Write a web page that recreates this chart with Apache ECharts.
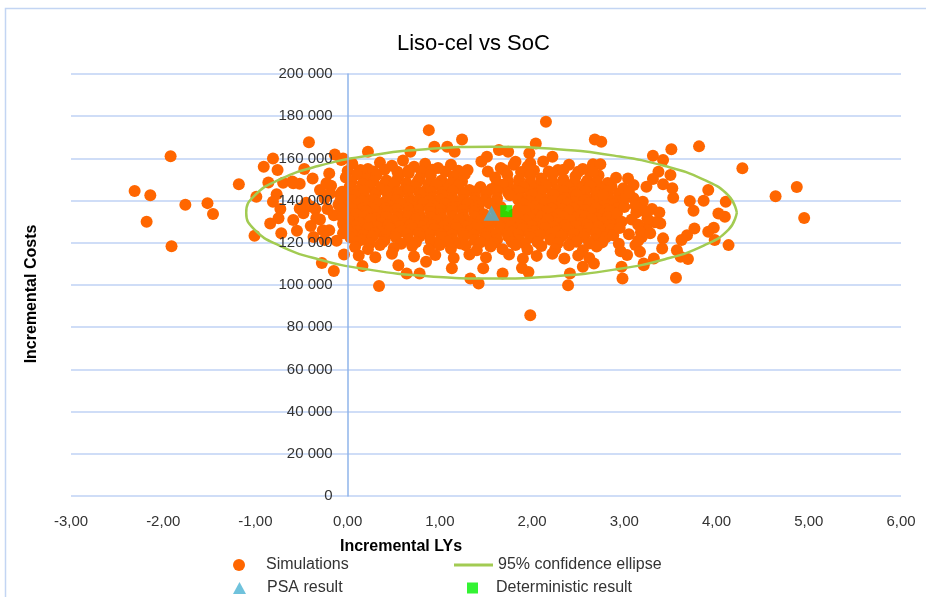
<!DOCTYPE html>
<html>
<head>
<meta charset="utf-8">
<title>Liso-cel vs SoC</title>
<script src="https://cdn.jsdelivr.net/npm/echarts@6/dist/echarts.min.js"></script>
<style>
  html, body { margin: 0; padding: 0; background: #fff; }
  #chart { width: 926px; height: 597px; }
</style>
</head>
<body>
<div id="chart"></div>
<script>
// PSA simulations: [incremental LYs, incremental costs]
const simulations = [
  // far left outliers
  [-2.31,144500],[-2.14,142500],[-2.18,130000],[-1.92,161000],[-1.91,118400],[-1.76,138000],
  [-1.52,138800],[-1.46,133600],[-1.18,147700],[-1.01,123300],[-0.99,141800],
  // left part of the ellipse
  [-0.91,156000],[-0.81,160000],[-0.76,154500],[-0.42,167600],[-0.86,148600],[-0.77,143000],
  [-0.81,139400],[-0.73,136000],[-0.75,131600],[-0.84,129200],[-0.72,124500],[-0.59,130800],
  [-0.55,125700],[-0.70,148500],[-0.60,149000],[-0.52,148000],[-0.47,155000],[-0.38,150500],
  [-0.28,110400],[-0.15,106600],[-0.37,122800],[-0.20,152900],[-0.14,161900],[-0.45,139000],
  [-0.35,136000],[-0.30,131000],[-0.40,128000],[-0.25,141000],[-0.20,126000],[-0.15,133000],
  [-0.30,145000],[-0.18,147000],[-0.48,134000],[-0.10,138000],[-0.05,129000],[-0.12,121000],
  [-0.08,143000],[-0.22,136000],[-0.04,114500],[-0.59,148200],[-0.52,136300],[-0.39,137100],
  [-0.34,131600],[-0.27,126000],[-0.19,143400],[-0.23,148200],[-0.05,124500],[-0.25,121300],
  // upper edge
  [0.88,173400],[1.24,169000],[2.15,177400],[0.94,165500],[1.08,165500],[1.16,163200],
  [0.68,163200],[0.22,163200],[-0.05,160000],[1.51,160800],[1.64,164000],[1.74,163200],
  [2.04,167100],[1.97,162400],[1.82,158400],[1.98,157700],[2.22,160800],[-0.07,159200],
  // dense core
  [0.05,157500],[0.22,155000],[0.35,158000],[0.48,156500],[0.60,159000],[0.72,156000],
  [0.84,157500],[0.98,155500],[1.12,157000],[1.30,154500],[1.45,158500],[1.66,155500],
  [1.80,157000],[1.95,156000],[2.12,158500],[2.28,154500],[2.40,157000],[2.55,155000],[2.66,157200],
  [0.00,154000],[0.14,154500],[0.28,153800],[0.40,154600],[0.54,153700],[0.66,154300],
  [0.80,153900],[0.92,154600],[1.06,153800],[1.20,154200],[1.52,153800],[1.70,154400],
  [1.88,153600],[2.02,154300],[2.18,153800],[2.34,154600],[2.50,153700],[2.62,154200],
  [-0.02,151000],[0.10,152500],[0.20,150000],[0.31,152000],[0.42,149500],[0.55,151500],
  [0.66,153000],[0.78,150500],[0.90,152000],[1.02,149500],[1.15,151500],[1.27,152500],
  [1.60,151000],[1.73,152500],[1.86,150000],[1.98,152000],[2.10,150500],
  [2.22,152500],[2.34,150000],[2.47,151500],[2.60,149500],[2.72,152000],
  [0.04,148800],[0.16,148000],[0.28,149200],[0.40,147800],[0.52,148900],[0.64,148200],
  [0.76,149000],[0.88,147900],[1.00,148700],[1.12,148100],[1.24,149100],[1.62,148200],
  [1.74,149000],[1.86,147900],[1.98,148800],[2.10,148000],[2.22,149100],[2.34,147800],
  [2.46,148700],[2.58,148100],[2.70,149000],[2.82,148300],
  [0.02,146500],[0.12,145000],[0.24,147000],[0.36,145500],[0.50,147500],[0.61,145000],
  [0.73,146500],[0.85,145000],[0.96,147500],[1.08,145500],[1.20,147000],[1.32,145000],
  [1.44,146500],[1.56,145500],[1.68,147500],[1.79,145000],[1.91,146500],[2.03,145500],
  [2.15,147000],[2.27,145000],[2.39,146500],[2.51,145500],[2.63,147000],[2.75,145500],[2.86,146800],
  [-0.06,144200],[0.06,143800],[0.18,144500],[0.30,143600],[0.42,144300],[0.54,143900],
  [0.66,144600],[0.78,143700],[0.90,144200],[1.02,143800],[1.14,144500],[1.26,143600],
  [1.38,144300],[1.50,143900],[1.62,144600],[1.74,143700],[1.86,144200],[1.98,143800],
  [2.10,144500],[2.22,143600],[2.34,144300],[2.46,143900],[2.58,144600],[2.70,143700],
  [2.82,144200],[2.94,143500],
  [-0.03,141500],[0.08,142500],[0.19,141000],[0.30,142800],[0.44,141200],[0.55,142600],
  [0.67,141000],[0.79,142800],[0.91,141300],[1.03,142500],[1.14,141000],[1.26,142800],
  [1.38,141200],[1.50,142600],[1.62,141000],[1.76,142500],[1.88,141200],[2.00,142800],
  [2.12,141000],[2.24,142500],[2.36,141200],[2.48,142800],[2.60,141000],[2.71,142400],[2.83,141200],
  [-0.08,139800],[0.05,140200],[0.17,139600],[0.29,140400],[0.41,139700],[0.53,140300],
  [0.65,139500],[0.77,140200],[0.89,139800],[1.01,140400],[1.13,139600],[1.25,140300],
  [1.37,139700],[1.49,140200],[1.61,139500],[1.85,140400],[1.97,139600],[2.09,140300],
  [2.21,139700],[2.33,140200],[2.45,139500],[2.57,140300],[2.69,139800],[2.81,140400],[2.93,139600],
  [0.00,137500],[0.11,138500],[0.23,137000],[0.34,138800],[0.46,137200],[0.58,138600],
  [0.70,137000],[0.82,138800],[0.94,137200],[1.06,138500],[1.18,137000],[1.30,138800],
  [1.42,137200],[1.54,138600],[1.66,137000],[1.90,138500],[2.02,137200],[2.14,138800],
  [2.26,137000],[2.38,138500],[2.50,137200],[2.62,138800],[2.74,137000],[2.88,138200],
  [-0.07,136200],[0.05,135800],[0.17,136400],[0.29,135600],[0.41,136300],[0.53,135900],
  [0.65,136500],[0.77,135700],[0.89,136200],[1.01,135800],[1.13,136400],[1.25,135600],
  [1.37,136300],[1.85,135900],[1.97,136500],[2.09,135700],[2.21,136200],[2.33,135800],
  [2.45,136400],[2.57,135600],[2.69,136300],[2.81,135900],[2.93,136400],
  [-0.02,134500],[0.09,133500],[0.20,135000],[0.32,133200],[0.43,134800],[0.55,133400],
  [0.66,135000],[0.78,133200],[0.90,134600],[1.01,133400],[1.13,135000],[1.25,133200],
  [1.37,134800],[1.48,133500],[1.60,135500],[1.70,132500],[1.80,133400],[1.92,135000],
  [2.04,133200],[2.16,134800],[2.28,133400],[2.40,135000],[2.52,133200],[2.64,134600],
  [2.76,133400],[2.85,135200],
  [-0.06,132200],[0.06,131800],[0.18,132400],[0.30,131600],[0.42,132300],[0.54,131900],
  [0.66,132500],[0.78,131700],[0.90,132200],[1.02,131800],[1.14,132400],[1.26,131600],
  [1.38,132300],[1.50,131900],[1.62,132500],[1.74,131700],[1.86,132200],[1.98,131800],
  [2.10,132400],[2.22,131600],[2.34,132300],[2.46,131900],[2.58,132500],[2.70,131700],[2.82,132200],
  [0.01,130500],[0.13,129500],[0.25,131000],[0.37,129200],[0.49,130800],[0.61,129400],
  [0.73,131000],[0.85,129200],[0.97,130600],[1.09,129400],[1.21,131000],[1.33,129200],
  [1.45,130800],[1.57,129400],[1.69,131000],[1.81,129200],[1.93,130600],[2.05,129400],
  [2.17,131000],[2.29,129200],[2.41,130800],[2.53,129400],[2.65,131000],[2.77,129600],[2.90,130400],
  [-0.04,128200],[0.08,127800],[0.20,128400],[0.32,127600],[0.44,128300],[0.56,127900],
  [0.68,128500],[0.80,127700],[0.92,128200],[1.04,127800],[1.16,128400],[1.28,127600],
  [1.40,128300],[1.52,127900],[1.64,128500],[1.76,127700],[1.88,128200],[2.00,127800],
  [2.12,128400],[2.24,127600],[2.36,128300],[2.48,127900],[2.60,128500],[2.72,127700],[2.84,128200],
  [-0.01,126500],[0.10,125500],[0.22,127000],[0.34,125200],[0.46,126800],[0.58,125400],
  [0.70,127000],[0.82,125200],[0.94,126600],[1.06,125400],[1.18,127000],[1.30,125200],
  [1.42,126800],[1.54,125400],[1.66,127000],[1.78,125200],[1.90,126600],[2.02,125400],
  [2.14,127000],[2.26,125200],[2.38,126800],[2.50,125400],[2.62,127000],[2.74,125600],[2.86,126400],
  [0.05,124200],[0.17,123800],[0.29,124500],[0.41,123600],[0.53,124300],[0.65,123900],
  [0.77,124600],[0.89,123700],[1.01,124200],[1.13,123800],[1.25,124500],[1.37,123600],
  [1.49,124300],[1.61,123900],[1.73,124600],[1.85,123700],[1.97,124200],[2.09,123800],
  [2.21,124500],[2.33,123600],[2.45,124300],[2.57,123900],[2.69,124600],[2.81,123700],
  [0.03,122500],[0.15,121500],[0.27,123000],[0.40,121200],[0.52,122800],[0.66,121400],
  [0.78,123000],[0.90,121200],[1.02,122600],[1.14,121400],[1.26,123000],[1.38,121200],
  [1.50,122800],[1.62,121400],[1.74,123000],[1.86,121200],[1.98,122600],[2.20,121400],
  [2.32,123000],[2.44,121200],[2.56,122800],[2.68,121400],[2.80,122600],
  [0.10,120200],[0.24,119800],[0.38,120400],[0.58,119600],[0.74,120300],[0.94,119900],
  [1.08,120500],[1.22,119700],[1.44,120200],[1.58,119800],[1.78,120400],[1.92,119600],
  [2.06,120300],[2.28,119900],[2.48,120500],[2.62,119700],[2.76,120200],
  [0.08,118000],[0.22,117000],[0.35,119000],[0.50,117500],[0.70,118500],[0.88,116800],
  [1.00,119000],[1.12,117200],[1.28,118800],[1.40,116500],[1.55,118200],[1.68,117000],
  [1.82,119000],[1.95,116800],[2.10,118500],[2.25,117000],[2.40,118800],[2.55,116500],[2.70,118200],
  [0.12,114000],[0.30,113200],[0.48,114800],[0.72,113500],[0.95,114200],[1.15,112800],
  [1.32,114500],[1.50,113000],[1.75,114500],[1.90,112500],[2.05,113800],[2.22,114800],
  [2.35,112600],[2.50,114000],[2.62,112800],
  // lower edge
  [0.16,109000],[0.34,99500],[0.55,109400],[0.64,105500],[0.78,105500],[0.85,111000],
  [1.13,107900],[1.33,103100],[1.42,100700],[1.47,107900],[1.68,105500],[1.89,108100],
  [1.96,106200],[1.98,85700],[2.39,99900],[2.41,105500],[2.55,108600],[2.67,110200],
  // right part of the ellipse and beyond
  [2.68,169000],[2.75,167900],[3.31,161300],[3.42,159200],[3.51,164300],[3.81,165700],
  [4.28,155300],[4.64,142100],[4.87,146400],[4.95,131700],[4.13,118900],[4.10,139400],
  [4.09,132300],[4.02,133900],[3.91,145000],[3.86,139900],[3.75,135200],[3.71,139800],
  [3.76,126800],[3.97,127100],[3.91,125200],[3.98,121300],[3.68,123600],[3.62,121300],
  [3.57,116500],[3.61,113400],[3.69,112300],[3.56,103400],[3.53,141300],[3.52,145800],
  [3.42,147800],[3.50,152100],[3.37,153700],[3.31,150200],[3.24,146600],[3.20,139400],
  [3.30,136000],[3.38,134400],[3.39,129200],[3.33,129700],[3.24,127100],[3.42,122100],
  [3.41,117300],[3.32,112600],[3.21,109400],[3.13,134400],[3.10,141100],[2.99,145800],
  [2.91,150800],[3.04,150500],[3.10,147400],[2.97,108600],[2.98,103100],[3.12,118900],
  [3.03,114200],[2.74,157200],[2.66,153700],[2.92,133900],[2.88,123600],[3.19,122800],
  [3.17,115700],[2.97,130000],[2.77,142600],[3.21,110200],
  [2.95,127000],[3.00,137000],[3.05,124000],[3.08,131000],[3.15,128500],[3.02,141500],
  [2.94,119500],[3.12,137500],[3.18,125000],[3.25,131500],[3.05,144000],[2.96,116000],
  [3.28,124500],[3.15,121000],[3.22,135000]
];

// 95% confidence ellipse
const ellipse = [
  [4.22,134300],[4.13,142380],[3.86,149900],[3.44,156360],[2.89,161320],[2.25,164440],
  [1.56,165500],[0.87,164440],[0.23,161320],[-0.32,156360],[-0.74,149900],[-1.01,142380],
  [-1.10,134300],[-1.01,126220],[-0.74,118700],[-0.32,112240],[0.23,107280],[0.87,104160],
  [1.56,103100],[2.25,104160],[2.89,107280],[3.44,112240],[3.86,118700],[4.13,126220],
  [4.22,134300]
];

const psaResult = [[1.56, 134000]];
const deterministicResult = [[1.72, 135000]];

const FONT = "'Liberation Sans', Arial, sans-serif";
const TEXT = '#333333';

const chart = echarts.init(document.getElementById('chart'));

// one legend box per entry so each can sit where Excel put it
function legendAt(name, left, top, w, h, gap, icon) {
  const item = icon ? { name: name, icon: icon } : name;
  return {
    data: [item],
    left: left,
    top: top,
    padding: 0,
    itemWidth: w,
    itemHeight: h,
    selectedMode: false,
    textStyle: { fontFamily: FONT, fontSize: 16, color: TEXT, padding: [0, 0, 0, gap] }
  };
}

const costFormat = v => String(v).replace(/\B(?=(\d{3})+(?!\d))/g, ' ');

const option = {
  animation: false,
  title: {
    text: 'Liso-cel vs SoC',
    left: 392,
    top: 28,
    textStyle: { fontFamily: FONT, fontSize: 22, fontWeight: 'normal', color: '#000' }
  },
  grid: { left: 71, right: 25, top: 74, bottom: 101 },
  xAxis: {
    type: 'value',
    min: -3,
    max: 6,
    interval: 1,
    axisLine: { show: false },
    axisTick: { show: false },
    splitLine: { show: false },
    axisLabel: {
      margin: 18,
      fontFamily: FONT,
      fontSize: 15,
      color: TEXT,
      formatter: v => v.toFixed(2).replace('.', ',')
    }
  },
  yAxis: [
    {
      // gridlines only, under the points
      type: 'value',
      min: 0,
      max: 200000,
      interval: 20000,
      axisLine: { show: false },
      axisTick: { show: false },
      axisLabel: { show: false },
      splitLine: { lineStyle: { color: '#bfd2f4', width: 1.5 } }
    },
    {
      // axis line and labels at x = 0, drawn over the points like in Excel
      type: 'value',
      position: 'left',
      min: 0,
      max: 200000,
      interval: 20000,
      offset: -830 / 3,
      z: 10,
      axisLine: { show: true, onZero: false, lineStyle: { color: '#8fb4ea', width: 1.5 } },
      axisTick: { show: false },
      splitLine: { show: false },
      axisLabel: {
        margin: 15,
        fontFamily: FONT,
        fontSize: 15,
        color: TEXT,
        formatter: costFormat
      }
    }
  ],
  legend: [
    legendAt('Simulations', 233, 557, 12, 12, 16),
    legendAt('95% confidence ellipse', 454, 557, 39, 3, 0, 'rect'),
    legendAt('PSA result', 233, 580, 13, 12, 16),
    legendAt('Deterministic result', 467, 580, 11, 11, 13)
  ],
  graphic: [
    {
      type: 'rect',
      shape: { x: 5.5, y: 8.5, width: 1000, height: 1000 },
      style: { fill: 'none', stroke: '#c3d5f3', lineWidth: 1.5 },
      silent: true
    },
    {
      type: 'text',
      x: 32,
      y: 294,
      rotation: Math.PI / 2,
      style: {
        text: 'Incremental Costs',
        font: 'bold 16px ' + FONT,
        fill: '#000',
        align: 'center',
        verticalAlign: 'middle'
      }
    },
    {
      type: 'text',
      x: 401,
      y: 547,
      style: {
        text: 'Incremental LYs',
        font: 'bold 16px ' + FONT,
        fill: '#000',
        align: 'center',
        verticalAlign: 'middle'
      }
    }
  ],
  series: [
    {
      name: 'Simulations',
      type: 'scatter',
      symbol: 'circle',
      symbolSize: 12,
      itemStyle: { color: '#ff6600', opacity: 1 },
      data: simulations
    },
    {
      name: '95% confidence ellipse',
      type: 'line',
      smooth: true,
      symbol: 'none',
      lineStyle: { color: '#a2cb52', width: 2.5 },
      itemStyle: { color: '#a2cb52' },
      data: ellipse
    },
    {
      name: 'PSA result',
      type: 'scatter',
      symbol: 'triangle',
      symbolSize: [16, 15],
      itemStyle: { color: '#4bb3d3' },
      data: psaResult
    },
    {
      name: 'Deterministic result',
      type: 'scatter',
      symbol: 'rect',
      symbolSize: 12,
      itemStyle: { color: '#00f000' },
      data: deterministicResult
    }
  ]
};

chart.setOption(option);
</script>
</body>
</html>
